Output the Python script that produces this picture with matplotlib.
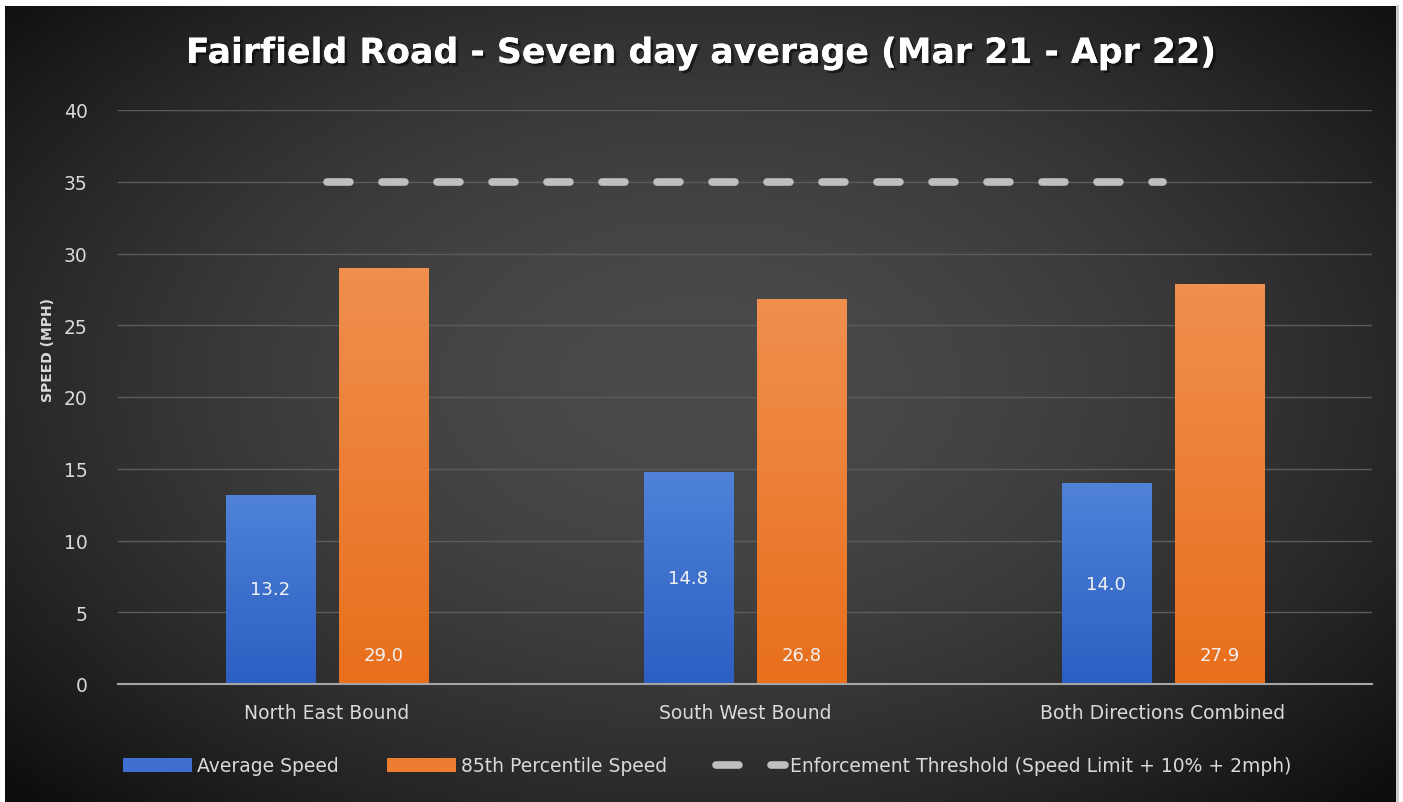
import numpy as np
import matplotlib
matplotlib.use("Agg")
import matplotlib.pyplot as plt
import matplotlib.patheffects as pe
from matplotlib.colors import LinearSegmentedColormap
from matplotlib.lines import Line2D
from matplotlib.patches import Patch

# data
categories = ["North East Bound", "South West Bound", "Both Directions Combined"]
avg_speed = [13.2, 14.8, 14.0]
p85_speed = [29.0, 26.8, 27.9]
threshold = [35, 35, 35]
yticks = [0, 5, 10, 15, 20, 25, 30, 35, 40]

plt.rcParams['font.family'] = ['DejaVu Sans']

fig = plt.figure(figsize=(14.03, 8.03), dpi=100, facecolor='white')

# dark radial background (Excel chart style)
bg = fig.add_axes([5 / 1403, 0, 1391 / 1403, 796 / 803], zorder=0)
gx, gy = np.meshgrid(np.linspace(-1, 1, 400), np.linspace(-1, 1, 240))
r = np.clip(np.sqrt((gx / 1.05) ** 2 + ((gy + 0.05) / 1.15) ** 2), 0, 1.3)
shade = (74 - 38 * r ** 1.8) / 255.0
bg.imshow(np.dstack([shade, shade, shade]), aspect='auto', extent=[0, 1, 0, 1])
bg.set_axis_off()
fig.add_artist(plt.Line2D([1397 / 1403, 1397 / 1403], [0, 796 / 803],
                          color='#c8c8c8', lw=2, transform=fig.transFigure))

ax = fig.add_axes([118 / 1403, 1 - 685 / 803, (1372 - 118) / 1403, (685 - 111) / 803], zorder=1)
ax.patch.set_alpha(0)

x = np.arange(len(categories))
w = 0.213
off = 0.136

b1 = ax.bar(x - off, avg_speed, w, color='#4472c4', zorder=3)
b2 = ax.bar(x + off, p85_speed, w, color='#ed7d31', zorder=3)

blue_cm = LinearSegmentedColormap.from_list('b', ['#2c5fc2', '#4f82d8'])
orng_cm = LinearSegmentedColormap.from_list('o', ['#e86f1c', '#f08f4e'])
grad = np.linspace(0, 1, 100).reshape(-1, 1)
for bars, cm in ((b1, blue_cm), (b2, orng_cm)):
    for rect in bars:
        x0, wd, h = rect.get_x(), rect.get_width(), rect.get_height()
        im = ax.imshow(grad, cmap=cm, origin='lower', aspect='auto',
                       extent=[x0, x0 + wd, 0, h], zorder=3.5)
        im.set_clip_path(rect)

# threshold line
ax.plot(x, threshold, color='#bfbfbf', lw=5.5, dashes=(3, 4.2),
        solid_capstyle='round', dash_capstyle='round', zorder=4)

# data labels
for rect, v in zip(b1, avg_speed):
    ax.text(rect.get_x() + rect.get_width() / 2, v / 2, f"{v:.1f}",
            ha='center', va='center', color='#f2f2f2', fontsize=13, zorder=5)
for rect, v in zip(b2, p85_speed):
    ax.annotate(f"{v:.1f}", (rect.get_x() + rect.get_width() / 2, 0),
                xytext=(0, 21), textcoords='offset points',
                ha='center', va='center', color='#f2f2f2', fontsize=13, zorder=5)

ax.set_xlim(-0.5, 2.5)
ax.set_ylim(0, 40)
ax.set_yticks(yticks)
ax.set_xticks(x)
ax.set_xticklabels(categories)
ax.tick_params(axis='both', length=0, colors='#d9d9d9', labelsize=13.5)
ax.tick_params(axis='y', pad=22)
ax.tick_params(axis='x', pad=14)
ax.grid(axis='y', color='#5c5c5c', lw=1, zorder=0)
for s in ('left', 'right', 'top'):
    ax.spines[s].set_visible(False)
ax.spines['bottom'].set_color('#a6a6a6')
ax.spines['bottom'].set_linewidth(1.5)
ax.spines['bottom'].set_zorder(4)

fig.text(48 / 1403, 1 - 350 / 803, "SPEED (MPH)", rotation=90, ha='center', va='center',
         color='#d9d9d9', fontsize=10, fontweight='bold')

fig.text(701 / 1403, 1 - 54 / 803, "Fairfield Road - Seven day average (Mar 21 - Apr 22)",
         ha='center', va='center', color='white', fontsize=25, fontweight='bold',
         path_effects=[pe.withSimplePatchShadow(offset=(2, -2), shadow_rgbFace='black', alpha=0.5),
                       pe.Normal()])

handles = [Patch(facecolor='#3e6fd0', label='Average Speed'),
           Patch(facecolor='#ed7d31', label='85th Percentile Speed'),
           Line2D([], [], color='#bfbfbf', lw=5.5, dashes=(3, 4.2), dash_capstyle='round',
                  label='Enforcement Threshold (Speed Limit + 10% + 2mph)')]
leg = fig.legend(handles=handles, loc='center', bbox_to_anchor=(707 / 1403, 1 - 767 / 803),
                 ncol=3, frameon=False, fontsize=13.5, labelcolor='#d9d9d9',
                 handlelength=3.7, handletextpad=0.25, columnspacing=2.6)

fig.savefig("out.png", dpi=100, facecolor='white')
